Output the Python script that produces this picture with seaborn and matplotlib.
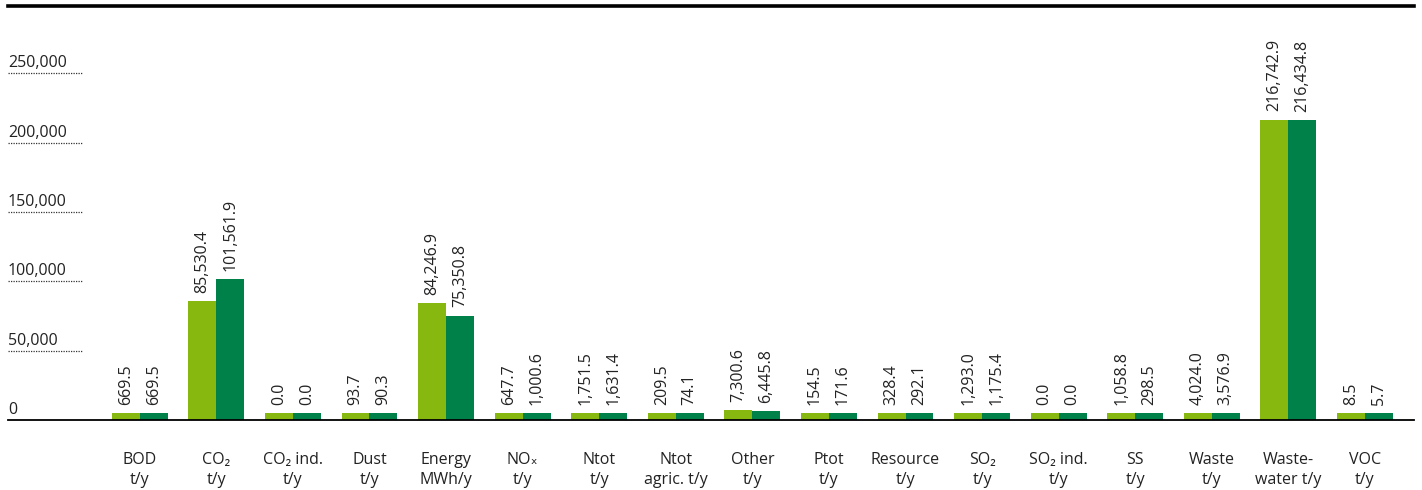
import numpy as np
import pandas as pd
import matplotlib
matplotlib.use("Agg")
import matplotlib.pyplot as plt
import seaborn as sns

categories = ["BOD\nt/y", "CO₂\nt/y", "CO₂ ind.\nt/y", "Dust\nt/y", "Energy\nMWh/y",
              "NOₓ\nt/y", "Ntot\nt/y", "Ntot\nagric. t/y", "Other\nt/y", "Ptot\nt/y",
              "Resource\nt/y", "SO₂\nt/y", "SO₂ ind.\nt/y", "SS\nt/y", "Waste\nt/y",
              "Waste-\nwater t/y", "VOC\nt/y"]
series_a = [669.5, 85530.4, 0.0, 93.7, 84246.9, 647.7, 1751.5, 209.5, 7300.6, 154.5,
            328.4, 1293.0, 0.0, 1058.8, 4024.0, 216742.9, 8.5]
series_b = [669.5, 101561.9, 0.0, 90.3, 75350.8, 1000.6, 1631.4, 74.1, 6445.8, 171.6,
            292.1, 1175.4, 0.0, 298.5, 3576.9, 216434.8, 5.7]
series_names = ["Series A", "Series B"]
yticks = [0, 50000, 100000, 150000, 200000, 250000]

colors = ["#86B80F", "#00814A"]
MIN_VIS = 5000  # minimum visible bar height (display only)

sns.set_style("white")
plt.rcParams["font.family"] = ["Open Sans", "DejaVu Sans"]

df = pd.DataFrame({
    "category": categories * 2,
    "value": series_a + series_b,
    "series": [series_names[0]] * len(categories) + [series_names[1]] * len(categories),
})
df["shown"] = np.maximum(df["value"], MIN_VIS)

fig = plt.figure(figsize=(14.22, 4.90), dpi=100)
ax = fig.add_axes([8 / 1422, 70 / 490, (1414 - 8) / 1422, (420 - 6) / 490])

sns.barplot(data=df, x="category", y="shown", hue="series", palette=colors,
            width=0.73, gap=0, legend=False, ax=ax, saturation=1, edgecolor="none")

for cont, vals in zip(ax.containers, [series_a, series_b]):
    ax.bar_label(cont, labels=[f"{v:,.1f}" for v in vals], rotation=90,
                 padding=6, fontsize=11.5, color="#222222")

ax.set_xlim(-1.72, len(categories) - 1 + 0.64)
ax.set_ylim(0, 298700)
ax.set_xlabel("")
ax.set_ylabel("")
ax.set_yticks([])
ax.tick_params(axis="x", length=0, pad=23, labelsize=11.5, labelcolor="#222222")
for lab in ax.get_xticklabels():
    lab.set_linespacing(1.35)

for s in ["left", "right"]:
    ax.spines[s].set_visible(False)
ax.spines["top"].set_linewidth(2.6)
ax.spines["top"].set_color("#000000")
ax.spines["bottom"].set_linewidth(1.3)
ax.spines["bottom"].set_color("#000000")

ytr = ax.get_yaxis_transform()
for t in yticks:
    ax.text(0.0, t + 1500, f"{t:,}", transform=ytr, ha="left", va="bottom",
            fontsize=11.5, color="#222222")
    if t > 0:
        ax.plot([0.0, 74 / 1406], [t, t], transform=ytr, color="#333333",
                lw=0.9, ls=(0, (1, 1)), clip_on=False)

fig.savefig("out.png", dpi=100)
